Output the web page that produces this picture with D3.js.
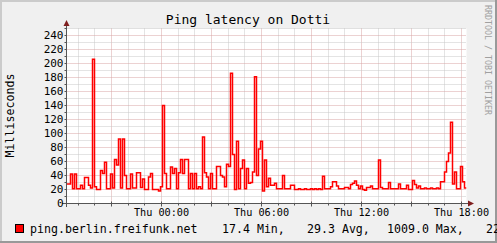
<!DOCTYPE html>
<html lang="en">
<head>
<meta charset="UTF-8">
<title>Ping latency on Dotti</title>
<script src="https://d3js.org/d3.v7.min.js"></script>
<style>
    body { margin: 0; }
    svg { display: block; font-family: "DejaVu Sans Mono", monospace; }
    line.minor { stroke: #c8c8c8; stroke-dasharray: 1,1; }
    line.major { stroke: #d8a4a4; stroke-dasharray: 1,1; }
    path.ping { stroke: #ff0000; stroke-width: 1.5px; fill: none; }
    .axis { stroke: #555555; }
</style>
</head>
<body>
<svg width="497" height="243"></svg>
<script>
    const title = "Ping latency on Dotti";
    const unitLabel = "Milliseconds";
    const watermark = "RRDTOOL / TOBI OETIKER";
    const host = "ping.berlin.freifunk.net";
    const statLabels = ["17.4 Min,", "29.3 Avg,", "1009.0 Max,", "22"];
    const startTime = new Date(Date.UTC(2014, 0, 15, 18, 18));
    const endTime = new Date(Date.UTC(2014, 0, 16, 18, 18));
    const yTicks = [0, 20, 40, 60, 80, 100, 120, 140, 160, 180, 200, 220, 240];
    // one value per 7.2 min slot
    const latency = [
        28, 28, 42, 21, 42, 21, 21, 26, 21, 37,
        37, 26, 22, 206, 24, 20, 20, 47, 43, 59,
        21, 21, 42, 22, 63, 55, 92, 22, 92, 40,
        21, 21, 42, 22, 22, 44, 44, 23, 35, 20,
        20, 38, 43, 20, 20, 20, 18, 24, 140, 43,
        21, 21, 52, 43, 50, 21, 44, 63, 43, 63,
        63, 21, 43, 21, 43, 21, 24, 21, 95, 44,
        38, 21, 43, 21, 21, 53, 53, 40, 38, 24,
        56, 53, 186, 70, 20, 89, 21, 50, 62, 21,
        50, 29, 30, 45, 181, 40, 78, 89, 18, 62,
        24, 36, 26, 26, 29, 21, 21, 21, 40, 21,
        21, 21, 26, 26, 20, 20, 21, 20, 20, 21,
        20, 20, 21, 20, 21, 20, 21, 20, 39, 21,
        21, 21, 24, 31, 31, 25, 21, 21, 21, 23,
        23, 21, 27, 29, 32, 26, 21, 25, 20, 19,
        23, 23, 25, 21, 21, 21, 62, 23, 21, 21,
        21, 30, 21, 21, 21, 21, 28, 21, 21, 21,
        26, 20, 20, 33, 27, 22, 25, 21, 21, 22,
        21, 21, 22, 21, 21, 22, 21, 31, 31, 45,
        60, 72, 116, 28, 45, 21, 21, 53, 31, 22
    ];

    const W = 497, H = 243;
    const plot = {left: 66.5, right: 466.5, top: 28.5, bottom: 203.5};
    let svg = d3.select('svg');

    // background with rrdtool style shading
    svg.append('rect').attr('width', W).attr('height', H).attr('fill', '#f0f0f0');
    svg.append('path').attr('d', 'M0,1H' + W + 'M1,0V' + H).attr('stroke', '#cbcbcb').attr('stroke-width', 2);
    svg.append('path').attr('d', 'M0,' + (H - 1) + 'H' + W + 'M' + (W - 1) + ',0V' + H).attr('stroke', '#999999').attr('stroke-width', 2);
    svg.append('rect').attr('x', plot.left).attr('y', plot.top)
        .attr('width', plot.right - plot.left).attr('height', plot.bottom - plot.top).attr('fill', '#ffffff');

    let xscale = d3.scaleUtc().domain([startTime, endTime]).range([plot.left, plot.right]);
    let yscale = d3.scaleLinear().domain([0, 250]).range([plot.bottom, plot.top]);
    let crisp = v => Math.round(v - 0.5) + 0.5;

    // grid
    let grid = svg.append('g');
    let hours = d3.utcHour.range(startTime, endTime);
    grid.selectAll('line.v').data(hours).join('line')
        .attr('class', d => d.getUTCHours() % 3 === 0 ? 'major' : 'minor')
        .attr('x1', d => crisp(xscale(d))).attr('x2', d => crisp(xscale(d)))
        .attr('y1', plot.top).attr('y2', plot.bottom);
    grid.selectAll('line.h').data(d3.range(10, 251, 10)).join('line')
        .attr('class', d => d % 20 === 0 ? 'major' : 'minor')
        .attr('x1', plot.left).attr('x2', plot.right)
        .attr('y1', d => yscale(d)).attr('y2', d => yscale(d));

    // series as step line
    let step = (endTime - startTime) / latency.length;
    let points = latency.map((v, i) => ({t: new Date(+startTime + i * step), v: v}));
    points.push({t: endTime, v: latency[latency.length - 1]});
    let line = d3.line().curve(d3.curveStepAfter)
        .x(d => xscale(d.t)).y(d => yscale(d.v));
    svg.append('clipPath').attr('id', 'clip').append('rect')
        .attr('x', plot.left).attr('y', plot.top - 1)
        .attr('width', plot.right - plot.left).attr('height', plot.bottom - plot.top + 1);
    svg.append('path').datum(points).attr('class', 'ping')
        .attr('clip-path', 'url(#clip)').attr('d', line);

    // axes
    let ax = svg.append('g');
    ax.append('line').attr('class', 'axis').attr('x1', 62).attr('x2', 470)
        .attr('y1', plot.bottom).attr('y2', plot.bottom);
    ax.append('line').attr('class', 'axis').attr('x1', plot.left).attr('x2', plot.left)
        .attr('y1', 207).attr('y2', 24);
    ax.append('path').attr('d', 'M468,200.5L474,203.5L468,206.5Z').attr('fill', '#7f1f1f');
    ax.append('path').attr('d', 'M63.5,26L66.5,20L69.5,26Z').attr('fill', '#7f1f1f');
    ax.selectAll('line.xt').data(hours).join('line').attr('class', 'axis')
        .attr('x1', d => crisp(xscale(d))).attr('x2', d => crisp(xscale(d)))
        .attr('y1', d => d.getUTCHours() % 3 === 0 ? plot.bottom - 2 : plot.bottom)
        .attr('y2', d => d.getUTCHours() % 3 === 0 ? plot.bottom + 3 : plot.bottom + 2);
    ax.selectAll('line.yt').data(d3.range(10, 251, 10)).join('line').attr('class', 'axis')
        .attr('x1', plot.left - 2).attr('x2', plot.left)
        .attr('y1', d => yscale(d)).attr('y2', d => yscale(d));

    let fmt = d3.utcFormat('%a %H:%M');
    svg.append('g').selectAll('text').data(hours.filter(d => d.getUTCHours() % 6 === 0)).join('text')
        .attr('x', d => xscale(d)).attr('y', 215.5).attr('text-anchor', 'middle')
        .attr('font-size', '10.2px').attr('fill', '#000').text(d => fmt(d));
    svg.append('g').selectAll('text').data(yTicks).join('text')
        .attr('x', 63.5).attr('y', d => yscale(d)).attr('dy', '0.36em').attr('text-anchor', 'end')
        .attr('font-size', '11px').attr('fill', '#000').text(d => d);

    // titles
    svg.append('text').attr('x', 248).attr('y', 23.5).attr('text-anchor', 'middle')
        .attr('font-size', '13px').text(title);
    svg.append('text').attr('transform', 'translate(14,115.5) rotate(-90)').attr('text-anchor', 'middle')
        .attr('font-size', '11.6px').text(unitLabel);
    svg.append('text').attr('transform', 'translate(485,5) rotate(90)')
        .attr('font-size', '8.3px').attr('fill', '#a0a0a0').text(watermark);

    // legend
    let legend = svg.append('g');
    legend.append('rect').attr('x', 15.5).attr('y', 224.5).attr('width', 8).attr('height', 8)
        .attr('fill', '#ff0000').attr('stroke', '#000');
    legend.append('text').attr('x', 30).attr('y', 233).attr('font-size', '11.6px').text(host);
    let legendX = [222, 307, 387, 486];
    legend.selectAll('text.stat').data(statLabels).join('text').attr('class', 'stat')
        .attr('x', (d, i) => legendX[i]).attr('y', 233).attr('font-size', '11.6px')
        .attr('xml:space', 'preserve').text(d => d);
</script>
</body>
</html>
